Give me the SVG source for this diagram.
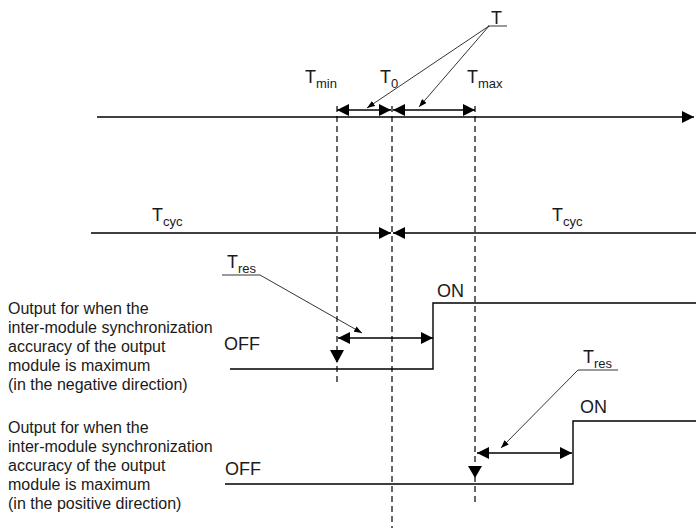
<svg xmlns="http://www.w3.org/2000/svg" width="696" height="528" viewBox="0 0 696 528">
<defs>
<style>
.ln{stroke:#000;stroke-width:1.4;fill:none}
.th{stroke:#000;stroke-width:0.8;fill:none}
.ds{stroke:#000;stroke-width:1.2;fill:none;stroke-dasharray:6,4}
.t{font-family:"Liberation Sans",Arial,sans-serif;fill:#1a1a1a}
.lab{font-size:16px}
.big{font-size:18px}
.sub{font-size:13px}
</style>
<marker id="arr" viewBox="0 0 12 12" refX="12" refY="6" markerWidth="12" markerHeight="12" markerUnits="userSpaceOnUse" orient="auto-start-reverse">
<path d="M0,0 L12,6 L0,12 z" fill="#000"/>
</marker>
<marker id="sarr" viewBox="0 0 8 6" refX="8" refY="3" markerWidth="8" markerHeight="6" markerUnits="userSpaceOnUse" orient="auto">
<path d="M0,0 L8,3 L0,6 z" fill="#000"/>
</marker>
</defs>
<rect width="696" height="528" fill="#fff"/>

<g id="guides">
<line class="ds" x1="337" y1="106" x2="337" y2="385"/>
<line class="ds" x1="392" y1="106" x2="392" y2="528"/>
<line class="ds" x1="475" y1="106" x2="475" y2="503"/>
</g>

<g id="connectors">
<line class="ln" x1="97" y1="117" x2="694" y2="117" marker-end="url(#arr)"/>
<line class="ln" x1="337" y1="110" x2="391" y2="110" marker-start="url(#arr)" marker-end="url(#arr)"/>
<line class="ln" x1="393" y1="110" x2="475" y2="110" marker-start="url(#arr)" marker-end="url(#arr)"/>
<line class="th" x1="489" y1="26" x2="367" y2="108" marker-end="url(#sarr)"/>
<line class="th" x1="489" y1="26" x2="419" y2="107" marker-end="url(#sarr)"/>
<line class="ln" x1="91" y1="233" x2="391" y2="233" marker-end="url(#arr)"/>
<line class="ln" x1="696" y1="233" x2="393" y2="233" marker-end="url(#arr)"/>
<line class="th" x1="260" y1="275" x2="362" y2="333" marker-end="url(#sarr)"/>
<line class="ln" x1="338" y1="338" x2="433" y2="338" marker-start="url(#arr)" marker-end="url(#arr)"/>
<line class="th" x1="578" y1="370" x2="501" y2="448" marker-end="url(#sarr)"/>
<line class="ln" x1="477" y1="453" x2="572" y2="453" marker-start="url(#arr)" marker-end="url(#arr)"/>
</g>

<g id="labels-top">
<text class="t big" x="491" y="24">T</text>
<line class="th" x1="488" y1="26" x2="507" y2="26"/>
<text class="t big" x="305" y="83">T<tspan class="sub" dy="5">min</tspan></text>
<text class="t big" x="380" y="83">T<tspan class="sub" dy="5">0</tspan></text>
<text class="t big" x="467" y="83">T<tspan class="sub" dy="5">max</tspan></text>
<text class="t big" x="152" y="221">T<tspan class="sub" dy="5">cyc</tspan></text>
<text class="t big" x="552" y="221">T<tspan class="sub" dy="5">cyc</tspan></text>
</g>

<g id="output-negative">
<text class="t lab" x="8" y="314">Output for when the</text>
<text class="t lab" x="8" y="333">inter-module synchronization</text>
<text class="t lab" x="8" y="352">accuracy of the output</text>
<text class="t lab" x="8" y="371">module is maximum</text>
<text class="t lab" x="8" y="390">(in the negative direction)</text>
<text class="t big" x="224" y="350">OFF</text>
<text class="t big" x="437" y="297">ON</text>
<polyline class="ln" points="230,369 433,369 433,303 696,303"/>
<polygon points="330,350 344,350 337,363" fill="#000"/>
<text class="t big" x="227" y="268">T<tspan class="sub" dy="5">res</tspan></text>
<line class="th" x1="222" y1="275" x2="260" y2="275"/>
</g>

<g id="output-positive">
<text class="t lab" x="8" y="433">Output for when the</text>
<text class="t lab" x="8" y="452">inter-module synchronization</text>
<text class="t lab" x="8" y="471">accuracy of the output</text>
<text class="t lab" x="8" y="490">module is maximum</text>
<text class="t lab" x="8" y="509">(in the positive direction)</text>
<text class="t big" x="225" y="475">OFF</text>
<text class="t big" x="580" y="413">ON</text>
<polyline class="ln" points="225,484 573,484 573,421 696,421"/>
<polygon points="468,466 482,466 475,478" fill="#000"/>
<text class="t big" x="583" y="363">T<tspan class="sub" dy="5">res</tspan></text>
<line class="th" x1="578" y1="370" x2="618" y2="370"/>
</g>
</svg>
